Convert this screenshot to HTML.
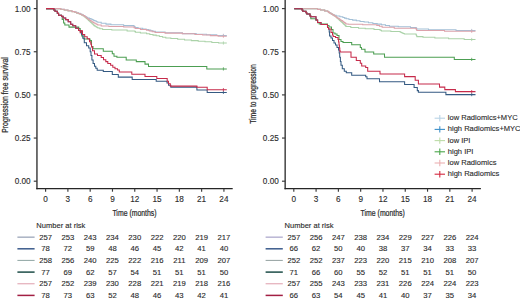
<!DOCTYPE html>
<html><head><meta charset="utf-8"><style>
html,body{margin:0;padding:0;background:#fff;width:520px;height:300px;overflow:hidden}
svg{display:block}
text{font-family:"Liberation Sans", sans-serif;fill:#2b2b2b}
.t{font-size:8.2px;stroke:#2b2b2b;stroke-width:0.12px}
.r{font-size:7.7px;stroke:#2b2b2b;stroke-width:0.12px}
.lg{font-size:7.55px;stroke:#2b2b2b;stroke-width:0.12px}
.lab{font-size:8.4px;stroke:#2b2b2b;stroke-width:0.22px}
</style></head><body>
<svg width="520" height="300" viewBox="0 0 520 300">
<path d="M46 8.6H60.75V9.3H64.25V10H68V10.75H72V11.5H74.88V12.12H76.62V12.75H78.38V13.38H80.12V14H81.75V14.7H83.25V15.4H84.45V16H85.35V16.6H86.25V17.2H87.62V17.9H89.48V18.6H91.07V19.2H92.4V19.8H93.73V20.4H95.07V21.03H96.4V21.67H97.73V22.3H101.2V23.3H106V24.1H110.9V24.7H123.65V25.6H133.88V26.27H134.65V26.93H135.42V27.6H138.1V28.25H142.7V28.9H146.15V29.52H148.45V30.14H150.75V30.76H153.05V31.38H155.35V32H165.12V32.8H182.38V33.6H196.17V34.2H206.5V34.8H216.83V35.4H226.8" fill="none" stroke="#a2bfd6" stroke-width="1.05"/>
<line x1="223.4" y1="33.8" x2="223.4" y2="37" stroke="#a2bfd6" stroke-width="0.8"/>
<path d="M46 8.6H60.75V9.4H64.25V10.2H68V11H72V11.8H74.88V12.45H76.62V13.1H78.38V13.75H80.12V14.4H81.75V15.2H83.25V16H84.34V16.6H85.01V17.2H85.69V17.8H86.36V18.4H87.07V19.08H87.81V19.76H88.55V20.44H89.29V21.12H90.03V21.8H90.73V22.43H91.4V23.07H92.07V23.7H92.73V24.33H93.4V24.97H94.07V25.6H94.9V26.2H95.9V26.8H96.9V27.4H97.9V28H99.8V28.7H102.6V29.4H111.8V30H127.1V31H134.9V31.6H135.5V32.2H140.4V33H146.6V33.7H149.8V34.4H153V35.1H156.2V35.8H159.4V36.5H162.6V37.2H165.8V37.9H170.83V38.58H177.68V39.25H184.53V39.92H191.38V40.6H198.2V41.2H205V41.8H211.8V42.4H218.6V43H226.8" fill="none" stroke="#aad2a8" stroke-width="1.05"/>
<line x1="223.4" y1="41.4" x2="223.4" y2="44.6" stroke="#aad2a8" stroke-width="0.8"/>
<path d="M46 8.6H60.75V9.3H64.25V10H68V10.8H72V11.6H74.88V12.25H76.62V12.9H78.38V13.55H80.12V14.2H81.75V14.9H83.25V15.6H84.45V16.33H85.35V17.07H86.25V17.8H87.16V18.45H88.09V19.1H89.01V19.75H89.94V20.4H90.9V21.05H91.9V21.7H92.9V22.35H93.9V23H95.07V23.67H96.4V24.33H97.73V25H101.2V25.9H108.9V26.4H123.65V27H134.07V27.75H135.23V28.5H140.4V29.5H146.44V30.23H149.31V30.95H152.19V31.67H155.06V32.4H165.12V33.1H182.38V33.8H194.88V34.4H202.62V35H210.38V35.6H218.12V36.2H226.8" fill="none" stroke="#dca2ab" stroke-width="1.05"/>
<line x1="223.4" y1="34.6" x2="223.4" y2="37.8" stroke="#dca2ab" stroke-width="0.8"/>
<path d="M46 8.6H53.8V10H55V11.3H57.3V13.3H58.6V15.3H61.5V16.3H62.2V19.5H63.6V22.9H64.8V25H69V27.1H78.7V28.6H80.2V31.5H81.7V36H84V39H90V40.5H91.5V46.5H93V48.7H103.3V51.2H112.3V53.8H114V56.2H116.9V57.3H126.2V59.9H136.3V61.6H145V64.1H148.5V66.5H206.8V68.9H226.8" fill="none" stroke="#4c9e52" stroke-width="1.05"/>
<line x1="223.4" y1="67.3" x2="223.4" y2="70.5" stroke="#4c9e52" stroke-width="0.8"/>
<path d="M46 8.6H53.8V10H55V11.3H57.3V13.3H58.6V15.3H61.5V16.3H63.2V17.9H65.7V19.6H68.2V21.7H70.7V24.2H72.75V25.8H75.7V28.2H78.6V30.5H81V32.8H81.5V34.5H82.8V38.2H84.3V42.7H86.5V45.7H88.7V48H90.2V51.7H91V55.5H91.9V60H93.1V63.4H94.5V66.3H95.8V68.3H97.2V70.2H103.3V71.4H112.3V74.4H118.3V77.1H132.2V79.4H156.2V81.2H167V83H168.5V85.2H170.8V87.1H196.9V90H207.2V92.4H226.8" fill="none" stroke="#345a82" stroke-width="1.05"/>
<line x1="223.4" y1="90.8" x2="223.4" y2="94" stroke="#345a82" stroke-width="0.8"/>
<path d="M46 8.6H53.8V10H55V11.3H57.3V13.3H58.6V15.3H61.5V16.3H63.2V17.9H65.7V19.6H68.2V21.7H70.7V24.2H72.75V25.8H75.7V28.2H78.6V30.5H81V32.8H80.2V30.7H82.5V34.5H84.7V36.7H87.2V38.7H89.5V41.7H90.8V44.2H91.5V47H92.5V50.7H94.5V54H97.5V55.4H101.2V57.4H103.5V59.7H105.8V61.6H107.8V63.5H110.6V65.2H112.8V67.3H115V68.7H117.5V69.9H119.3V72H131.8V74.2H145V76.4H156.8V78.5H167.2V81.2H168.5V83.8H170.3V86.1H196.9V87.2H207.2V89.7H226.8" fill="none" stroke="#c62a4a" stroke-width="1.05"/>
<line x1="223.4" y1="88.1" x2="223.4" y2="91.3" stroke="#c62a4a" stroke-width="0.8"/>
<path d="M294.2 8.7H317.52V9.35H320.58V10H324.7V10.9H327.85V11.7H328.95V12.5H330V13.07H331V13.63H332V14.2H333.05V14.75H334.15V15.3H336.2V16H339.85V16.8H342.85V17.47H344.55V18.13H346.25V18.8H348.95V19.45H352.65V20.1H356.35V20.75H360.05V21.4H364.09V22.07H368.46V22.75H372.84V23.43H377.21V24.1H381.42V24.8H385.45V25.5H389.48V26.2H398.25V26.8H410.5V27.5H416.25V28.25H416.75V29H428.5V29.8H456V30.5H475.5" fill="none" stroke="#a2bfd6" stroke-width="1.05"/>
<line x1="471.7" y1="28.9" x2="471.7" y2="32.1" stroke="#a2bfd6" stroke-width="0.8"/>
<path d="M294.2 8.7H317.52V9.35H320.58V10H324.7V10.9H327.67V11.5H328.4V12.1H329.13V12.7H330V13.27H331V13.83H332V14.4H333.05V15.1H334.15V15.8H335.07V16.43H335.82V17.05H336.57V17.68H337.32V18.3H338.08V19H338.84V19.7H339.61V20.4H340.37V21.1H341.13V21.8H341.89V22.5H342.66V23.2H343.42V23.9H344.12V24.55H344.77V25.2H345.43V25.85H346.07V26.5H350.8V27.5H358.55V28.15H365.25V28.8H374V29.5H380.07V30.2H381.43V30.9H390.85V31.5H400.25V32.15H401.55V32.8H402.9V33.4H404.3V34H416V34.2H416.12V34.8H416.38V35.4H416.62V36H416.88V36.6H422.95V37.25H434.85V37.9H448.6V38.7H464.2V39.5H475.5" fill="none" stroke="#aad2a8" stroke-width="1.05"/>
<line x1="471.7" y1="37.9" x2="471.7" y2="41.1" stroke="#aad2a8" stroke-width="0.8"/>
<path d="M294.2 8.7H317.52V9.35H320.58V10H324.7V10.9H327.67V11.5H328.4V12.1H329.13V12.7H330V13.27H331V13.83H332V14.4H333.05V15.1H334.15V15.8H335.2V16.5H336.2V17.2H337.2V17.9H338.22V18.58H339.26V19.26H340.3V19.94H341.34V20.62H342.38V21.3H343.34V21.95H344.21V22.6H345.09V23.25H345.96V23.9H348.2V24.3H362.7V24.8H376.75V25.5H379.45V26.2H382.15V27.2H394.25V28.2H416V28.5H416.17V29.13H416.5V29.77H416.83V30.4H444.5V31.3H475.5" fill="none" stroke="#dca2ab" stroke-width="1.05"/>
<line x1="471.7" y1="29.7" x2="471.7" y2="32.9" stroke="#dca2ab" stroke-width="0.8"/>
<path d="M294.2 8.7H302V10H302.8V11.2H306V12.8H306.8V14H310V16H310.8V18.8H316V20.2H317.6V22.6H319.2V24H327.5V25.5H329V27H331.5V29.5H333V33H335V34H337V35.5H339V39.5H341V41.5H343V42.5H351.7V44.7H360.3V47.5H361.5V49.3H365V52H373.7V54H384.5V57.3H454.3V59.4H475.5" fill="none" stroke="#4c9e52" stroke-width="1.05"/>
<line x1="471.7" y1="57.8" x2="471.7" y2="61" stroke="#4c9e52" stroke-width="0.8"/>
<path d="M294.2 8.7H302V10H302.8V11.2H306V12.8H306.8V14H310V16H310.8V16.8H316V20H317.6V22.4H321V24.5H327.5V27.5H328.5V29H329.2V32H329.6V36H331V38H332.5V40.5H334V43H335.5V45H337V47.5H338.5V50H339.2V53H339.7V57.3H340.4V61.5H341V65.3H342.3V68.7H344.3V71.3H346.3V72.7H351.7V75.3H365.7V76.7H367V78.8H379.5V81.8H404.6V84.4H414.1V87.5H417.3V90.6H418.4V92.3H445.9V94.6H475.5" fill="none" stroke="#345a82" stroke-width="1.05"/>
<line x1="471.7" y1="93" x2="471.7" y2="96.2" stroke="#345a82" stroke-width="0.8"/>
<path d="M294.2 8.7H302V10H302.8V11.2H306V12.8H306.8V14H310V16H310.8V16.8H316V20H317.6V22.4H321V24.5H327.5V27.5H328.5V29H331V32.5H332.5V35H333.2V36.5H335.5V37.5H338V39.5H338.6V42H339V45H339.4V48H339.8V50.7H340.2V52H351V57.3H356.3V60.5H360.3V63.3H361.7V66H365.7V67.5H367.7V71.3H380V74H404.6V76.6H415.2V80.2H418.4V83.9H439.5V87.1H444.8V89.6H455.4V91.6H475.5" fill="none" stroke="#c62a4a" stroke-width="1.05"/>
<line x1="471.7" y1="90" x2="471.7" y2="93.2" stroke="#c62a4a" stroke-width="0.8"/>
<line x1="36.95" y1="0" x2="36.95" y2="189.3" stroke="#262626" stroke-width="1.3"/>
<line x1="36.35" y1="188.7" x2="232.7" y2="188.7" stroke="#262626" stroke-width="1.3"/>
<line x1="33.75" y1="8.6" x2="36.95" y2="8.6" stroke="#3a3a3a" stroke-width="1.15"/>
<text x="30.6" y="11.75" text-anchor="end" class="t">1.00</text>
<line x1="33.75" y1="51.75" x2="36.95" y2="51.75" stroke="#3a3a3a" stroke-width="1.15"/>
<text x="30.6" y="54.9" text-anchor="end" class="t">0.75</text>
<line x1="33.75" y1="94.9" x2="36.95" y2="94.9" stroke="#3a3a3a" stroke-width="1.15"/>
<text x="30.6" y="98.05" text-anchor="end" class="t">0.50</text>
<line x1="33.75" y1="138.05" x2="36.95" y2="138.05" stroke="#3a3a3a" stroke-width="1.15"/>
<text x="30.6" y="141.2" text-anchor="end" class="t">0.25</text>
<line x1="33.75" y1="181.2" x2="36.95" y2="181.2" stroke="#3a3a3a" stroke-width="1.15"/>
<text x="30.6" y="184.35" text-anchor="end" class="t">0.00</text>
<line x1="45.6" y1="188.7" x2="45.6" y2="191.7" stroke="#3a3a3a" stroke-width="1.15"/>
<text x="45.6" y="202.0" text-anchor="middle" class="t">0</text>
<line x1="67.89" y1="188.7" x2="67.89" y2="191.7" stroke="#3a3a3a" stroke-width="1.15"/>
<text x="67.89" y="202.0" text-anchor="middle" class="t">3</text>
<line x1="90.18" y1="188.7" x2="90.18" y2="191.7" stroke="#3a3a3a" stroke-width="1.15"/>
<text x="90.18" y="202.0" text-anchor="middle" class="t">6</text>
<line x1="112.47" y1="188.7" x2="112.47" y2="191.7" stroke="#3a3a3a" stroke-width="1.15"/>
<text x="112.47" y="202.0" text-anchor="middle" class="t">9</text>
<line x1="134.76" y1="188.7" x2="134.76" y2="191.7" stroke="#3a3a3a" stroke-width="1.15"/>
<text x="134.76" y="202.0" text-anchor="middle" class="t">12</text>
<line x1="157.05" y1="188.7" x2="157.05" y2="191.7" stroke="#3a3a3a" stroke-width="1.15"/>
<text x="157.05" y="202.0" text-anchor="middle" class="t">15</text>
<line x1="179.34" y1="188.7" x2="179.34" y2="191.7" stroke="#3a3a3a" stroke-width="1.15"/>
<text x="179.34" y="202.0" text-anchor="middle" class="t">18</text>
<line x1="201.63" y1="188.7" x2="201.63" y2="191.7" stroke="#3a3a3a" stroke-width="1.15"/>
<text x="201.63" y="202.0" text-anchor="middle" class="t">21</text>
<line x1="223.92" y1="188.7" x2="223.92" y2="191.7" stroke="#3a3a3a" stroke-width="1.15"/>
<text x="223.92" y="202.0" text-anchor="middle" class="t">24</text>
<text x="134.5" y="215.9" text-anchor="middle" class="lab" textLength="44.2" lengthAdjust="spacingAndGlyphs">Time (months)</text>
<text transform="translate(7.5,95) rotate(-90)" x="0" y="0" text-anchor="middle" class="lab" textLength="75.6" lengthAdjust="spacingAndGlyphs">Progression free survival</text>
<text x="36.3" y="228" class="r" style="font-size:7.55px">Number at risk</text>
<line x1="17.4" y1="237.15" x2="34.6" y2="237.15" stroke="#8f9ab0" stroke-width="1.15"/>
<text x="45.6" y="239.75" text-anchor="middle" class="r">257</text>
<text x="67.89" y="239.75" text-anchor="middle" class="r">253</text>
<text x="90.18" y="239.75" text-anchor="middle" class="r">243</text>
<text x="112.47" y="239.75" text-anchor="middle" class="r">234</text>
<text x="134.76" y="239.75" text-anchor="middle" class="r">230</text>
<text x="157.05" y="239.75" text-anchor="middle" class="r">222</text>
<text x="179.34" y="239.75" text-anchor="middle" class="r">220</text>
<text x="201.63" y="239.75" text-anchor="middle" class="r">219</text>
<text x="223.92" y="239.75" text-anchor="middle" class="r">217</text>
<line x1="17.4" y1="248.8" x2="34.6" y2="248.8" stroke="#3b5b8c" stroke-width="1.5"/>
<text x="45.6" y="251.4" text-anchor="middle" class="r">78</text>
<text x="67.89" y="251.4" text-anchor="middle" class="r">72</text>
<text x="90.18" y="251.4" text-anchor="middle" class="r">59</text>
<text x="112.47" y="251.4" text-anchor="middle" class="r">48</text>
<text x="134.76" y="251.4" text-anchor="middle" class="r">46</text>
<text x="157.05" y="251.4" text-anchor="middle" class="r">45</text>
<text x="179.34" y="251.4" text-anchor="middle" class="r">42</text>
<text x="201.63" y="251.4" text-anchor="middle" class="r">41</text>
<text x="223.92" y="251.4" text-anchor="middle" class="r">40</text>
<line x1="17.4" y1="260.45" x2="34.6" y2="260.45" stroke="#9aaeac" stroke-width="1.15"/>
<text x="45.6" y="263.05" text-anchor="middle" class="r">258</text>
<text x="67.89" y="263.05" text-anchor="middle" class="r">256</text>
<text x="90.18" y="263.05" text-anchor="middle" class="r">240</text>
<text x="112.47" y="263.05" text-anchor="middle" class="r">225</text>
<text x="134.76" y="263.05" text-anchor="middle" class="r">222</text>
<text x="157.05" y="263.05" text-anchor="middle" class="r">216</text>
<text x="179.34" y="263.05" text-anchor="middle" class="r">211</text>
<text x="201.63" y="263.05" text-anchor="middle" class="r">209</text>
<text x="223.92" y="263.05" text-anchor="middle" class="r">207</text>
<line x1="17.4" y1="272.1" x2="34.6" y2="272.1" stroke="#1d4d47" stroke-width="1.5"/>
<text x="45.6" y="274.7" text-anchor="middle" class="r">77</text>
<text x="67.89" y="274.7" text-anchor="middle" class="r">69</text>
<text x="90.18" y="274.7" text-anchor="middle" class="r">62</text>
<text x="112.47" y="274.7" text-anchor="middle" class="r">57</text>
<text x="134.76" y="274.7" text-anchor="middle" class="r">54</text>
<text x="157.05" y="274.7" text-anchor="middle" class="r">51</text>
<text x="179.34" y="274.7" text-anchor="middle" class="r">51</text>
<text x="201.63" y="274.7" text-anchor="middle" class="r">51</text>
<text x="223.92" y="274.7" text-anchor="middle" class="r">50</text>
<line x1="17.4" y1="283.75" x2="34.6" y2="283.75" stroke="#e2a9b5" stroke-width="1.15"/>
<text x="45.6" y="286.35" text-anchor="middle" class="r">257</text>
<text x="67.89" y="286.35" text-anchor="middle" class="r">252</text>
<text x="90.18" y="286.35" text-anchor="middle" class="r">239</text>
<text x="112.47" y="286.35" text-anchor="middle" class="r">230</text>
<text x="134.76" y="286.35" text-anchor="middle" class="r">228</text>
<text x="157.05" y="286.35" text-anchor="middle" class="r">221</text>
<text x="179.34" y="286.35" text-anchor="middle" class="r">219</text>
<text x="201.63" y="286.35" text-anchor="middle" class="r">218</text>
<text x="223.92" y="286.35" text-anchor="middle" class="r">216</text>
<line x1="17.4" y1="295.4" x2="34.6" y2="295.4" stroke="#a21f43" stroke-width="1.5"/>
<text x="45.6" y="298" text-anchor="middle" class="r">78</text>
<text x="67.89" y="298" text-anchor="middle" class="r">73</text>
<text x="90.18" y="298" text-anchor="middle" class="r">63</text>
<text x="112.47" y="298" text-anchor="middle" class="r">52</text>
<text x="134.76" y="298" text-anchor="middle" class="r">48</text>
<text x="157.05" y="298" text-anchor="middle" class="r">46</text>
<text x="179.34" y="298" text-anchor="middle" class="r">43</text>
<text x="201.63" y="298" text-anchor="middle" class="r">42</text>
<text x="223.92" y="298" text-anchor="middle" class="r">41</text>
<line x1="285.15" y1="0" x2="285.15" y2="189.3" stroke="#262626" stroke-width="1.3"/>
<line x1="284.55" y1="188.7" x2="480.9" y2="188.7" stroke="#262626" stroke-width="1.3"/>
<line x1="281.95" y1="8.6" x2="285.15" y2="8.6" stroke="#3a3a3a" stroke-width="1.15"/>
<text x="278.8" y="11.75" text-anchor="end" class="t">1.00</text>
<line x1="281.95" y1="51.75" x2="285.15" y2="51.75" stroke="#3a3a3a" stroke-width="1.15"/>
<text x="278.8" y="54.9" text-anchor="end" class="t">0.75</text>
<line x1="281.95" y1="94.9" x2="285.15" y2="94.9" stroke="#3a3a3a" stroke-width="1.15"/>
<text x="278.8" y="98.05" text-anchor="end" class="t">0.50</text>
<line x1="281.95" y1="138.05" x2="285.15" y2="138.05" stroke="#3a3a3a" stroke-width="1.15"/>
<text x="278.8" y="141.2" text-anchor="end" class="t">0.25</text>
<line x1="281.95" y1="181.2" x2="285.15" y2="181.2" stroke="#3a3a3a" stroke-width="1.15"/>
<text x="278.8" y="184.35" text-anchor="end" class="t">0.00</text>
<line x1="293.8" y1="188.7" x2="293.8" y2="191.7" stroke="#3a3a3a" stroke-width="1.15"/>
<text x="293.8" y="202.0" text-anchor="middle" class="t">0</text>
<line x1="316.09" y1="188.7" x2="316.09" y2="191.7" stroke="#3a3a3a" stroke-width="1.15"/>
<text x="316.09" y="202.0" text-anchor="middle" class="t">3</text>
<line x1="338.38" y1="188.7" x2="338.38" y2="191.7" stroke="#3a3a3a" stroke-width="1.15"/>
<text x="338.38" y="202.0" text-anchor="middle" class="t">6</text>
<line x1="360.67" y1="188.7" x2="360.67" y2="191.7" stroke="#3a3a3a" stroke-width="1.15"/>
<text x="360.67" y="202.0" text-anchor="middle" class="t">9</text>
<line x1="382.96" y1="188.7" x2="382.96" y2="191.7" stroke="#3a3a3a" stroke-width="1.15"/>
<text x="382.96" y="202.0" text-anchor="middle" class="t">12</text>
<line x1="405.25" y1="188.7" x2="405.25" y2="191.7" stroke="#3a3a3a" stroke-width="1.15"/>
<text x="405.25" y="202.0" text-anchor="middle" class="t">15</text>
<line x1="427.54" y1="188.7" x2="427.54" y2="191.7" stroke="#3a3a3a" stroke-width="1.15"/>
<text x="427.54" y="202.0" text-anchor="middle" class="t">18</text>
<line x1="449.83" y1="188.7" x2="449.83" y2="191.7" stroke="#3a3a3a" stroke-width="1.15"/>
<text x="449.83" y="202.0" text-anchor="middle" class="t">21</text>
<line x1="472.12" y1="188.7" x2="472.12" y2="191.7" stroke="#3a3a3a" stroke-width="1.15"/>
<text x="472.12" y="202.0" text-anchor="middle" class="t">24</text>
<text x="382.7" y="215.9" text-anchor="middle" class="lab" textLength="44.2" lengthAdjust="spacingAndGlyphs">Time (months)</text>
<text transform="translate(256.3,94) rotate(-90)" x="0" y="0" text-anchor="middle" class="lab" textLength="59.6" lengthAdjust="spacingAndGlyphs">Time to progression</text>
<text x="284.5" y="228" class="r" style="font-size:7.55px">Number at risk</text>
<line x1="265.6" y1="237.15" x2="282.8" y2="237.15" stroke="#a49ec6" stroke-width="1.15"/>
<text x="293.8" y="239.75" text-anchor="middle" class="r">257</text>
<text x="316.09" y="239.75" text-anchor="middle" class="r">256</text>
<text x="338.38" y="239.75" text-anchor="middle" class="r">247</text>
<text x="360.67" y="239.75" text-anchor="middle" class="r">238</text>
<text x="382.96" y="239.75" text-anchor="middle" class="r">234</text>
<text x="405.25" y="239.75" text-anchor="middle" class="r">229</text>
<text x="427.54" y="239.75" text-anchor="middle" class="r">227</text>
<text x="449.83" y="239.75" text-anchor="middle" class="r">226</text>
<text x="472.12" y="239.75" text-anchor="middle" class="r">224</text>
<line x1="265.6" y1="248.8" x2="282.8" y2="248.8" stroke="#3b5b8c" stroke-width="1.5"/>
<text x="293.8" y="251.4" text-anchor="middle" class="r">66</text>
<text x="316.09" y="251.4" text-anchor="middle" class="r">62</text>
<text x="338.38" y="251.4" text-anchor="middle" class="r">50</text>
<text x="360.67" y="251.4" text-anchor="middle" class="r">40</text>
<text x="382.96" y="251.4" text-anchor="middle" class="r">38</text>
<text x="405.25" y="251.4" text-anchor="middle" class="r">37</text>
<text x="427.54" y="251.4" text-anchor="middle" class="r">34</text>
<text x="449.83" y="251.4" text-anchor="middle" class="r">33</text>
<text x="472.12" y="251.4" text-anchor="middle" class="r">33</text>
<line x1="265.6" y1="260.45" x2="282.8" y2="260.45" stroke="#9eaaa9" stroke-width="1.15"/>
<text x="293.8" y="263.05" text-anchor="middle" class="r">252</text>
<text x="316.09" y="263.05" text-anchor="middle" class="r">252</text>
<text x="338.38" y="263.05" text-anchor="middle" class="r">237</text>
<text x="360.67" y="263.05" text-anchor="middle" class="r">223</text>
<text x="382.96" y="263.05" text-anchor="middle" class="r">220</text>
<text x="405.25" y="263.05" text-anchor="middle" class="r">215</text>
<text x="427.54" y="263.05" text-anchor="middle" class="r">210</text>
<text x="449.83" y="263.05" text-anchor="middle" class="r">208</text>
<text x="472.12" y="263.05" text-anchor="middle" class="r">207</text>
<line x1="265.6" y1="272.1" x2="282.8" y2="272.1" stroke="#1d4d47" stroke-width="1.5"/>
<text x="293.8" y="274.7" text-anchor="middle" class="r">71</text>
<text x="316.09" y="274.7" text-anchor="middle" class="r">66</text>
<text x="338.38" y="274.7" text-anchor="middle" class="r">60</text>
<text x="360.67" y="274.7" text-anchor="middle" class="r">55</text>
<text x="382.96" y="274.7" text-anchor="middle" class="r">52</text>
<text x="405.25" y="274.7" text-anchor="middle" class="r">51</text>
<text x="427.54" y="274.7" text-anchor="middle" class="r">51</text>
<text x="449.83" y="274.7" text-anchor="middle" class="r">51</text>
<text x="472.12" y="274.7" text-anchor="middle" class="r">50</text>
<line x1="265.6" y1="283.75" x2="282.8" y2="283.75" stroke="#e2a9b5" stroke-width="1.15"/>
<text x="293.8" y="286.35" text-anchor="middle" class="r">257</text>
<text x="316.09" y="286.35" text-anchor="middle" class="r">255</text>
<text x="338.38" y="286.35" text-anchor="middle" class="r">243</text>
<text x="360.67" y="286.35" text-anchor="middle" class="r">233</text>
<text x="382.96" y="286.35" text-anchor="middle" class="r">231</text>
<text x="405.25" y="286.35" text-anchor="middle" class="r">226</text>
<text x="427.54" y="286.35" text-anchor="middle" class="r">224</text>
<text x="449.83" y="286.35" text-anchor="middle" class="r">224</text>
<text x="472.12" y="286.35" text-anchor="middle" class="r">223</text>
<line x1="265.6" y1="295.4" x2="282.8" y2="295.4" stroke="#a21f43" stroke-width="1.5"/>
<text x="293.8" y="298" text-anchor="middle" class="r">66</text>
<text x="316.09" y="298" text-anchor="middle" class="r">63</text>
<text x="338.38" y="298" text-anchor="middle" class="r">54</text>
<text x="360.67" y="298" text-anchor="middle" class="r">45</text>
<text x="382.96" y="298" text-anchor="middle" class="r">41</text>
<text x="405.25" y="298" text-anchor="middle" class="r">40</text>
<text x="427.54" y="298" text-anchor="middle" class="r">37</text>
<text x="449.83" y="298" text-anchor="middle" class="r">35</text>
<text x="472.12" y="298" text-anchor="middle" class="r">34</text>
<line x1="434.6" y1="118.2" x2="445" y2="118.2" stroke="#b9d3e6" stroke-width="1.1"/>
<line x1="439.8" y1="115" x2="439.8" y2="121.4" stroke="#b9d3e6" stroke-width="1.1"/>
<text x="447.8" y="120.1" class="lg">low Radiomics+MYC</text>
<line x1="434.6" y1="129.4" x2="445" y2="129.4" stroke="#3b8fc9" stroke-width="1.1"/>
<line x1="439.8" y1="126.2" x2="439.8" y2="132.6" stroke="#3b8fc9" stroke-width="1.1"/>
<text x="447.8" y="131.3" class="lg">high Radiomics+MYC</text>
<line x1="434.6" y1="140.6" x2="445" y2="140.6" stroke="#bddca8" stroke-width="1.1"/>
<line x1="439.8" y1="137.4" x2="439.8" y2="143.8" stroke="#bddca8" stroke-width="1.1"/>
<text x="447.8" y="142.5" class="lg">low IPI</text>
<line x1="434.6" y1="151.8" x2="445" y2="151.8" stroke="#4aa64a" stroke-width="1.1"/>
<line x1="439.8" y1="148.6" x2="439.8" y2="155" stroke="#4aa64a" stroke-width="1.1"/>
<text x="447.8" y="153.7" class="lg">high IPI</text>
<line x1="434.6" y1="163" x2="445" y2="163" stroke="#ebb1b3" stroke-width="1.1"/>
<line x1="439.8" y1="159.8" x2="439.8" y2="166.2" stroke="#ebb1b3" stroke-width="1.1"/>
<text x="447.8" y="164.9" class="lg">low Radiomics</text>
<line x1="434.6" y1="174.2" x2="445" y2="174.2" stroke="#d3283f" stroke-width="1.1"/>
<line x1="439.8" y1="171" x2="439.8" y2="177.4" stroke="#d3283f" stroke-width="1.1"/>
<text x="447.8" y="176.1" class="lg">high Radiomics</text>
</svg>
</body></html>
